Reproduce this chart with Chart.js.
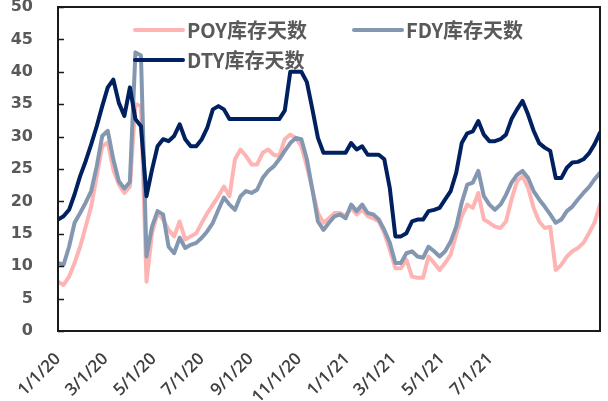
<!DOCTYPE html>
<html>
<head>
<meta charset="utf-8">
<script src="https://cdn.jsdelivr.net/npm/chart.js@4.4.0/dist/chart.umd.min.js"></script>
<style>
  body { margin: 0; background: #fff; }
  #wrap { width: 608px; height: 401px; }
</style>
</head>
<body>
<div id="wrap"><canvas id="myChart" width="608" height="401"></canvas></div>
<script>
// Nombres de las series
const seriesNames = ['POY库存天数', 'FDY库存天数', 'DTY库存天数'];

// Datos semanales desde 1/1/20
const startDate = '2020-01-01';
const poyDays = [7.6, 7.1, 8.4, 10.5, 13.0, 16.1, 19.2, 23.9, 28.5, 29.1,
  24.9, 22.6, 21.3, 22.3, 35.0, 34.7, 7.6, 15.1, 18.2, 17.2,
  15.6, 14.6, 16.9, 14.1, 14.6, 15.1, 16.7, 18.2, 19.5, 20.8,
  22.3, 20.8, 26.5, 28.0, 27.0, 25.7, 25.7, 27.5, 28.0, 27.2,
  27.0, 29.6, 30.3, 29.8, 28.5, 25.4, 21.8, 18.2, 16.7, 17.4,
  18.2, 18.2, 17.7, 19.0, 18.0, 18.7, 17.7, 17.4, 16.9, 15.1,
  12.5, 9.7, 9.7, 11.0, 8.4, 8.2, 8.2, 11.5, 10.5, 9.4,
  10.5, 11.8, 14.9, 17.7, 19.5, 19.0, 21.3, 17.2, 16.7, 16.1,
  15.9, 16.9, 20.3, 23.1, 23.9, 22.1, 19.0, 16.9, 15.9, 16.1,
  9.4, 10.2, 11.5, 12.3, 12.8, 13.6, 15.1, 16.7, 19.5];
const fdyDays = [10.5, 10.2, 13.0, 16.7, 18.2, 19.8, 21.6, 25.4, 30.1, 30.9,
  26.5, 23.1, 22.0, 23.0, 43.0, 42.5, 11.5, 16.1, 18.5, 18.0,
  13.0, 12.0, 14.4, 12.8, 13.3, 13.6, 14.4, 15.4, 16.7, 18.7,
  20.6, 19.5, 18.7, 20.8, 21.6, 21.3, 21.8, 23.6, 24.7, 25.4,
  26.5, 27.8, 29.0, 29.8, 29.6, 26.5, 21.8, 16.9, 15.6, 16.7,
  17.7, 18.0, 17.4, 19.5, 18.5, 19.5, 18.2, 18.0, 17.2, 15.6,
  13.6, 10.5, 10.5, 12.0, 12.3, 11.5, 11.3, 13.0, 12.3, 11.5,
  12.3, 13.8, 16.1, 19.8, 22.6, 22.9, 24.7, 20.8, 19.5, 18.7,
  19.5, 21.0, 22.9, 24.1, 24.7, 23.6, 21.6, 20.3, 19.2, 18.0,
  16.7, 17.2, 18.5, 19.2, 20.3, 21.3, 22.2, 23.4, 24.4];
const dtyDays = [17.2, 17.7, 18.7, 21.1, 23.9, 26.2, 28.8, 31.6, 34.7, 37.6,
  38.8, 35.2, 33.2, 37.6, 32.7, 31.6, 20.8, 24.9, 28.5, 29.6,
  29.3, 30.1, 31.9, 29.6, 28.5, 28.5, 29.6, 31.4, 34.2, 34.7,
  34.2, 32.7, 32.7, 32.7, 32.7, 32.7, 32.7, 32.7, 32.7, 32.7,
  32.7, 34.0, 40.0, 40.0, 40.0, 38.4, 34.2, 29.8, 27.5, 27.5,
  27.5, 27.5, 27.5, 29.0, 28.0, 28.5, 27.2, 27.2, 27.2, 26.5,
  22.0, 14.6, 14.6, 15.1, 16.9, 17.2, 17.2, 18.5, 18.7, 19.0,
  20.3, 21.6, 24.4, 29.0, 30.5, 30.8, 32.4, 30.3, 29.3, 29.3,
  29.6, 30.3, 32.7, 34.2, 35.5, 33.4, 30.9, 29.0, 28.3, 27.8,
  23.6, 23.6, 25.2, 26.0, 26.1, 26.5, 27.4, 28.8, 30.6];

// Etiquetas del eje X
const tickLabels = ['1/1/20', '3/1/20', '5/1/20', '7/1/20', '9/1/20',
  '11/1/20', '1/1/21', '3/1/21', '5/1/21', '7/1/21'];

const colors = ['#FFB4B4', '#8497B0', '#002060'];

// Días desde la fecha inicial
const DAY = 86400000;
const start = new Date(startDate + 'T00:00:00Z').getTime();
function daysFromLabel(label) {
    const [m, d, y] = label.split('/').map(Number);
    return Math.round((Date.UTC(2000 + y, m - 1, d) - start) / DAY);
}
const weekDays = poyDays.map((_, i) => i * 7);
const tickDays = tickLabels.map(daysFromLabel);

function toPoints(values) {
    return values.map((v, i) => ({ x: weekDays[i], y: v }));
}

// Marco del área del gráfico y marcas internas del eje Y
const framePlugin = {
    id: 'frame',
    afterDraw(chart) {
        const ctx = chart.ctx;
        const a = chart.chartArea;
        ctx.save();
        ctx.strokeStyle = '#1a1a1a';
        ctx.lineWidth = 2;
        ctx.strokeRect(a.left, a.top, a.right - a.left, a.bottom - a.top);
        const y = chart.scales.y;
        ctx.lineWidth = 1.5;
        y.ticks.forEach(t => {
            const py = Math.round(y.getPixelForValue(t.value)) + 0.5;
            ctx.beginPath();
            ctx.moveTo(a.left, py);
            ctx.lineTo(a.left + 6, py);
            ctx.stroke();
        });
        ctx.restore();
    }
};

// Leyenda dentro del área
const legendPlugin = {
    id: 'innerLegend',
    afterDraw(chart) {
        const ctx = chart.ctx;
        const a = chart.chartArea;
        const spots = [
            { x: 77, y: 23 },
            { x: 296, y: 23 },
            { x: 77, y: 53 }
        ];
        ctx.save();
        ctx.font = 'bold 20px "Noto Sans CJK SC"';
        ctx.textBaseline = 'middle';
        ctx.fillStyle = '#595959';
        chart.data.datasets.forEach((ds, i) => {
            const sx = a.left + spots[i].x;
            const sy = a.top + spots[i].y;
            ctx.strokeStyle = ds.borderColor;
            ctx.lineWidth = 4;
            ctx.lineCap = 'round';
            ctx.beginPath();
            ctx.moveTo(sx, sy);
            ctx.lineTo(sx + 48, sy);
            ctx.stroke();
            ctx.fillText(ds.label, sx + 52, sy);
        });
        ctx.restore();
    }
};

const ctx = document.getElementById('myChart').getContext('2d');
const myChart = new Chart(ctx, {
    type: 'line',
    data: {
        datasets: [
            { label: seriesNames[0], data: toPoints(poyDays), borderColor: colors[0], order: 2 },
            { label: seriesNames[1], data: toPoints(fdyDays), borderColor: colors[1], order: 1 },
            { label: seriesNames[2], data: toPoints(dtyDays), borderColor: colors[2], order: 0 }
        ]
    },
    options: {
        responsive: false,
        animation: false,
        devicePixelRatio: 1,
        layout: { padding: { top: 7, right: 8, left: 0, bottom: 0 } },
        elements: {
            line: { borderWidth: 4, tension: 0, borderJoinStyle: 'round', borderCapStyle: 'round', fill: false },
            point: { radius: 0, hoverRadius: 0 }
        },
        plugins: {
            legend: { display: false },
            tooltip: { enabled: false }
        },
        scales: {
            x: {
                type: 'linear',
                min: 0,
                max: weekDays[weekDays.length - 1],
                grid: { display: false },
                border: { display: false },
                afterBuildTicks: (scale) => {
                    scale.ticks = tickDays.map(v => ({ value: v }));
                },
                afterFit: (scale) => {
                    scale.height = 70;
                    scale.paddingLeft = 0;
                    scale.paddingRight = 0;
                },
                ticks: {
                    autoSkip: false,
                    minRotation: 45,
                    maxRotation: 45,
                    padding: 10,
                    color: '#404040',
                    font: { family: '"Open Sans"', size: 17, weight: '600' },
                    callback: (value, index) => tickLabels[index]
                }
            },
            y: {
                min: 0,
                max: 50,
                grid: { display: false, drawTicks: false },
                border: { display: false },
                afterFit: (scale) => {
                    scale.width = 58;
                    scale.paddingTop = 0;
                    scale.paddingBottom = 0;
                },
                ticks: {
                    stepSize: 5,
                    padding: 25,
                    color: '#595959',
                    font: { family: '"DejaVu Sans"', size: 16, weight: 'bold' }
                }
            }
        }
    },
    plugins: [framePlugin, legendPlugin]
});
</script>
</body>
</html>
